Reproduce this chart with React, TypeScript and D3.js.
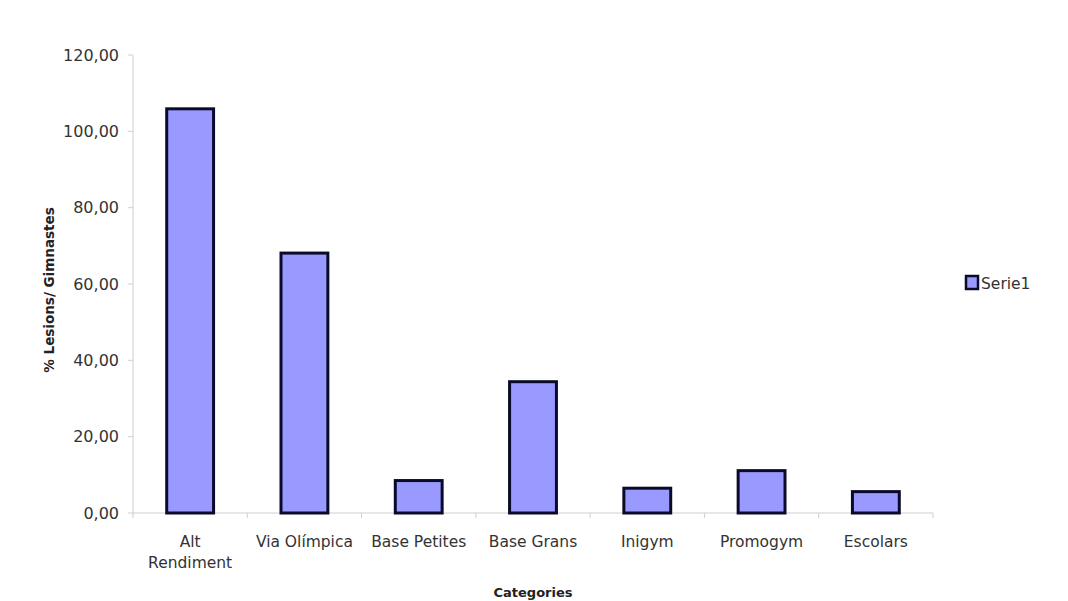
import React from "react";
import * as d3 from "d3";

const categories = ["Alt Rendiment", "Via Olímpica", "Base Petites", "Base Grans", "Inigym", "Promogym", "Escolars"];
const categoryLines = [["Alt", "Rendiment"], ["Via Olímpica"], ["Base Petites"], ["Base Grans"], ["Inigym"], ["Promogym"], ["Escolars"]];
const serie1 = [105.9, 68.1, 8.5, 34.4, 6.5, 11.1, 5.6];
const yTicks = [0, 20, 40, 60, 80, 100, 120];
const seriesName = "Serie1";
const xTitle = "Categories";
const yTitle = "% Lesions/ Gimnastes";

const W = 1068;
const H = 601;
const plot = { left: 133, right: 933, top: 55, bottom: 513 };
const font = "'DejaVu Sans', Verdana, sans-serif";

export default function App() {
  const x = d3.scaleBand<string>().domain(categories).range([plot.left, plot.right]).paddingInner(0).paddingOuter(0);
  const y = d3.scaleLinear().domain([0, 120]).range([plot.bottom, plot.top]);
  const barW = x.bandwidth() * 0.41;
  const fmt = (v: number) => d3.format(".2f")(v).replace(".", ",");
  const axisColor = "#cfcfcf";

  return (
    <svg width={W} height={H} style={{ position: "absolute", left: 0, top: 0, background: "#fff" }}>
      {/* y axis */}
      <line x1={plot.left} x2={plot.left} y1={plot.top} y2={plot.bottom} stroke={axisColor} strokeWidth={1} />
      {yTicks.map((t) => (
        <g key={t}>
          <line x1={plot.left - 5} x2={plot.left} y1={y(t)} y2={y(t)} stroke={axisColor} />
          <text x={plot.left - 14} y={y(t)} dy="0.36em" textAnchor="end" fontFamily={font} fontSize={16} fill="#333">
            {fmt(t)}
          </text>
        </g>
      ))}
      {/* x axis */}
      <line x1={plot.left} x2={plot.right} y1={plot.bottom} y2={plot.bottom} stroke={axisColor} strokeWidth={1} />
      {categories.map((c) => (
        <line key={"t" + c} x1={x(c) as number} x2={x(c) as number} y1={plot.bottom} y2={plot.bottom + 5} stroke={axisColor} />
      ))}
      <line x1={plot.right} x2={plot.right} y1={plot.bottom} y2={plot.bottom + 5} stroke={axisColor} />
      {/* bars */}
      {categories.map((c, i) => {
        const cx = (x(c) as number) + x.bandwidth() / 2;
        return (
          <rect
            key={c}
            x={cx - barW / 2}
            y={y(serie1[i])}
            width={barW}
            height={y(0) - y(serie1[i])}
            fill="#9999ff"
            stroke="#0a0a2a"
            strokeWidth={3}
          />
        );
      })}
      {/* category labels */}
      {categories.map((c, i) => {
        const cx = (x(c) as number) + x.bandwidth() / 2;
        return (
          <text key={"l" + c} x={cx} y={547} textAnchor="middle" fontFamily={font} fontSize={15.5} fill="#333">
            {categoryLines[i].map((ln, j) => (
              <tspan key={j} x={cx} dy={j === 0 ? 0 : 21}>
                {ln}
              </tspan>
            ))}
          </text>
        );
      })}
      {/* axis titles */}
      <text x={(plot.left + plot.right) / 2} y={597} textAnchor="middle" fontFamily={font} fontSize={13} fontWeight="bold" fill="#222">
        {xTitle}
      </text>
      <text
        transform={`translate(54, ${(plot.top + plot.bottom) / 2 + 6}) rotate(-90)`}
        textAnchor="middle"
        fontFamily={font}
        fontSize={13.5}
        fontWeight="bold"
        fill="#222"
      >
        {yTitle}
      </text>
      {/* legend */}
      <rect x={966} y={276} width={12} height={13} fill="#9999ff" stroke="#0a0a2a" strokeWidth={2.5} />
      <text x={981} y={289} fontFamily={font} fontSize={15.5} fill="#333">
        {seriesName}
      </text>
    </svg>
  );
}
